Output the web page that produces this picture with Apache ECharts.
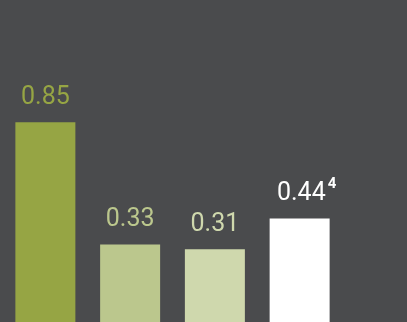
<!DOCTYPE html>
<html>
<head>
<meta charset="utf-8">
<script src="https://cdn.jsdelivr.net/npm/echarts@6/dist/echarts.min.js"></script>
<style>
  html, body { margin: 0; padding: 0; background: #4a4b4d; }
  #chart { width: 407px; height: 322px; }
</style>
</head>
<body>
<div id="chart"></div>
<script>
var myChart = echarts.init(document.getElementById('chart'));

// values
var categories = ['A', 'B', 'C', 'D'];
var values = [0.85, 0.33, 0.31, 0.44];
var footnotes = ['', '', '', '4'];

var barColors = ['#96a544', '#bbc78d', '#cfd8ad', '#ffffff'];

var seriesData = values.map(function (v, i) {
    var item = {
        value: v,
        itemStyle: { color: barColors[i] },
        label: { color: barColors[i] }
    };
    if (footnotes[i]) {
        item.label.formatter = '{v|' + v.toFixed(2) + '}{sup|' + footnotes[i] + '}';
        item.label.offset = [7, 0];
    }
    return item;
});

option = {
    backgroundColor: '#4a4b4d',
    animation: false,
    grid: { left: 3, right: 65, top: 0, bottom: 0 },
    xAxis: {
        type: 'category',
        data: categories,
        show: false
    },
    yAxis: {
        type: 'value',
        min: 0,
        max: 1.37,
        show: false
    },
    series: [{
        type: 'bar',
        data: seriesData,
        barWidth: 60,
        label: {
            show: true,
            position: 'top',
            distance: 12,
            fontFamily: 'Roboto',
            fontSize: 25,
            formatter: function (p) { return p.value.toFixed(2); },
            rich: {
                v: {
                    fontFamily: 'Roboto',
                    fontSize: 25,
                    color: '#ffffff',
                    padding: [5, 0, 0, 0],
                    verticalAlign: 'bottom'
                },
                sup: {
                    fontFamily: 'Roboto',
                    fontSize: 15,
                    fontWeight: 'bold',
                    color: '#ffffff',
                    lineHeight: 15,
                    padding: [0, 0, 0, 2],
                    verticalAlign: 'top'
                }
            }
        }
    }]
};
myChart.setOption(option);
</script>
</body>
</html>
